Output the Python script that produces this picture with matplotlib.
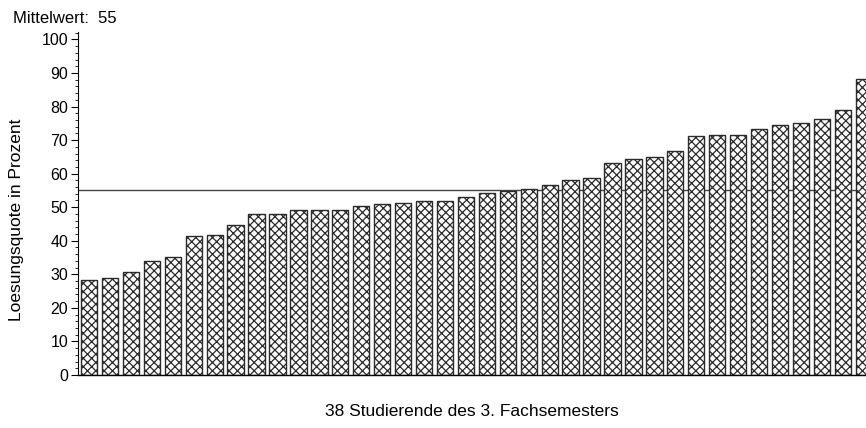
import numpy as np
import matplotlib
matplotlib.use('Agg')
import matplotlib.pyplot as plt
from matplotlib.ticker import MultipleLocator

plt.rcParams['font.family'] = ['Liberation Sans', 'DejaVu Sans']
plt.rcParams['hatch.linewidth'] = 0.9

# Loesungsquote der 38 Studierenden, aufsteigend sortiert
quote = [28.3, 28.8, 30.7, 33.9, 35.2, 41.3, 41.8, 44.8, 48.0, 48.0,
         49.3, 49.3, 49.3, 50.3, 50.9, 51.4, 51.9, 51.9, 53.0, 54.3,
         54.8, 55.3, 56.6, 58.1, 58.6, 63.1, 64.4, 65.0, 66.6, 71.1,
         71.6, 71.6, 73.2, 74.5, 75.1, 76.2, 79.0, 88.1]
mittelwert = 55
y_ticks = [0, 10, 20, 30, 40, 50, 60, 70, 80, 90, 100]

fig = plt.figure(figsize=(8.66, 4.28), dpi=100)
ax = fig.add_axes([0.0901, 0.1238, 0.9099, 0.8014])

x = np.arange(len(quote))
ax.axhline(mittelwert, color='#444444', lw=1.0, zorder=1)
ax.bar(x, quote, width=0.78, color='white', edgecolor='#2a2a2a',
       linewidth=1.0, hatch='xxxx', zorder=2)

ax.set_xlim(-0.53, 37.11)
ax.set_ylim(0, 102.2)
ax.set_yticks(y_ticks)
ax.yaxis.set_minor_locator(MultipleLocator(2))
ax.tick_params(axis='y', which='major', length=5, width=0.8, labelsize=11.5, pad=2)
ax.tick_params(axis='y', which='minor', length=2.5, width=0.6)
ax.set_xticks([])

for s in ['top', 'right']:
    ax.spines[s].set_visible(False)
ax.spines['left'].set_linewidth(0.8)
ax.spines['bottom'].set_linewidth(1.0)

ax.set_xlabel('38 Studierende des 3. Fachsemesters', fontsize=12.5, labelpad=21)
fig.text(0.0196, 0.486, 'Loesungsquote in Prozent', rotation=90,
         fontsize=12.5, ha='center', va='center')
fig.text(0.015, 0.957, 'Mittelwert:  55', fontsize=12, ha='left', va='center')

fig.savefig('out.png', dpi=100)
